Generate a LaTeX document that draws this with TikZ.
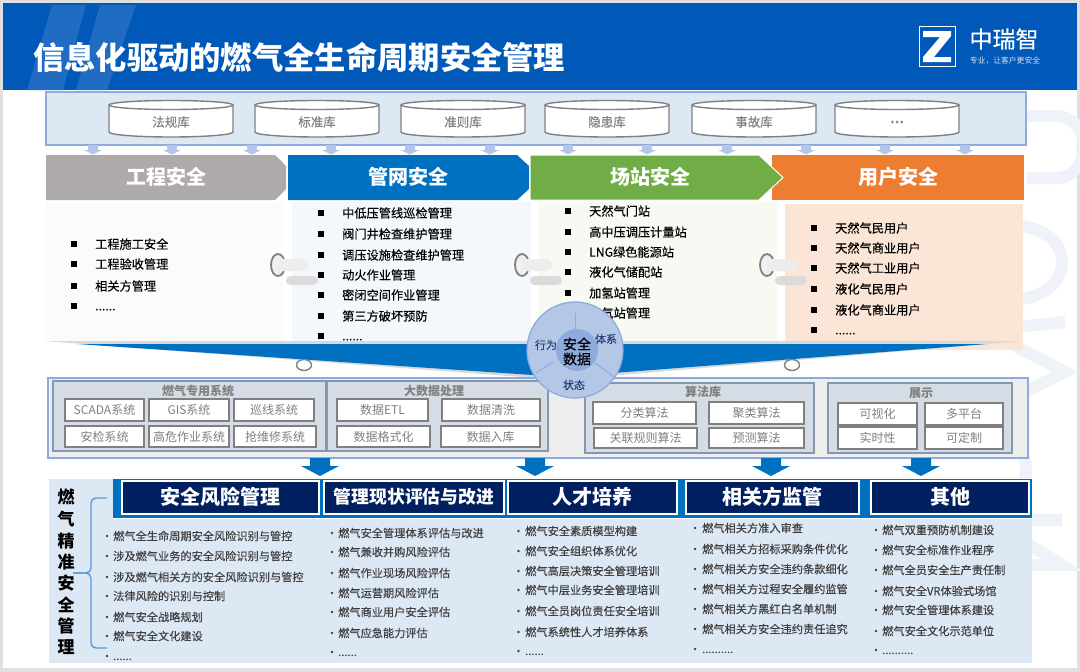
\documentclass[tikz,border=0pt]{standalone}
\usepackage{fontspec}
\setmainfont{Noto Sans CJK SC}
\newfontfamily\medfont[FakeBold=0.25]{Noto Sans CJK SC}
\usepackage{tikz}
\usetikzlibrary{positioning}
\definecolor{hdblue}{HTML}{0058B8}
\definecolor{stripeblue}{HTML}{1F6CC2}
\definecolor{bandblue}{HTML}{DDE8F5}
\definecolor{edgeblue}{HTML}{8FAADC}
\definecolor{softblue}{HTML}{B4C7E7}
\definecolor{midblue}{HTML}{0070C0}
\definecolor{navy}{HTML}{002060}
\definecolor{wmark}{HTML}{F0F2FA}
\definecolor{groupfill}{HTML}{D6DCE5}
\definecolor{groupedge}{HTML}{8497B0}
\definecolor{chevgrey}{HTML}{AEAAAA}
\definecolor{chevgreen}{HTML}{70AD47}
\definecolor{chevorange}{HTML}{ED7D31}
\definecolor{panelgrey}{HTML}{FBFBFB}
\definecolor{panelblue}{HTML}{F4F8FD}
\definecolor{panelgreen}{HTML}{F6FAF3}
\definecolor{panelorange}{HTML}{FBE5D6}
\definecolor{bracecol}{HTML}{5B9BD5}
\tikzset{
    txt/.style={inner sep=0pt, font=\fontsize{#1}{#1}\selectfont},
    medtxt/.style={inner sep=0pt, font=\medfont\fontsize{#1}{#1}\selectfont},
    item/.style={medtxt=12.2, anchor=west, text=black},
    sq/.style={fill=black, inner sep=0pt, minimum size=6pt},
    lowitem/.style={medtxt=11.2, anchor=west, text=black!75},
    dot/.style={circle, fill=black!75, inner sep=0pt, minimum size=2.8pt},
    libtext/.style={medtxt=12.5, text=black!50},
    chevtext/.style={inner sep=0pt, text=white, font=\fontsize{20}{20}\selectfont\bfseries},
    headbox/.style={draw=white, line width=1.3pt, fill=navy},
    groupbox/.style={draw=groupedge, line width=1.4pt, fill=groupfill},
    subbox/.style={draw=black!50, line width=1.5pt, fill=white},
    subtext/.style={txt=12, text=black!50},
    grouptext/.style={inner sep=0pt, text=black!50, font=\fontsize{12}{12}\selectfont\bfseries},
    ring/.style={draw=black!50, line width=1.4pt},
    petal/.style={medtxt=11, text=navy!85},
}
\newcommand{\lowdots}[1]{\vphantom{工}#1}
\begin{document}
\begin{tikzpicture}[x=1pt, y=-1pt]
    \useasboundingbox (0,0) rectangle (1080,672);
    \fill[black!12] (0,0) rectangle (1080,672);
    \fill[white] (3,3) rectangle (1077,668);

    % watermark
    \begin{scope}[wmark, line width=12pt]
        \draw (1027,116) -- (1055,116) to[out=0,in=0,looseness=1.6] (1055,178) -- (1027,178);
        \draw (1010,225) to[out=0,in=90] (1062,262) to[out=-90,in=0] (1010,300) -- (985,300);
        \draw (1065,322) -- (985,330) -- (1065,372) -- (985,412);
        \draw (1005,440) to[out=0,in=0,looseness=1.2] (1005,500);
        \draw (1062,520) -- (990,520) -- (1062,565) -- (990,565);
    \end{scope}

    % title bar
    \fill[hdblue] (3,3) rectangle (1077,90);
    \fill[stripeblue] (52,5) -- (86,5) -- (63,90) -- (27,90) -- cycle;
    \fill[stripeblue] (100,5) -- (136,5) -- (107,90) -- (76,90) -- cycle;
    \node[inner sep=0pt, text=white, anchor=west, font=\fontsize{31.3}{31.3}\selectfont\bfseries] (title) at (33,57) {信息化驱动的燃气全生命周期安全管理};
    \draw[white, line width=1pt, fill=hdblue] (919,26.5) rectangle (955,66);
    \fill[white] (923,31) -- (951,31) -- (951,36) -- (934,57) -- (951,57) -- (951,62) -- (923,62) -- (923,57) -- (940,37) -- (923,37) -- cycle;
    \node[medtxt=23, text=white] (brand) at (1004,39) {中瑞智};
    \node[txt=7.8, text=white!85!hdblue] (slogan) at (1005,61) {专业，让客户更安全};

    % libraries
    \draw[edgeblue, line width=1.2pt, fill=bandblue] (46,92) rectangle (1026,145);
    \foreach \cx/\lbl [count=\i] in {171/法规库, 317/标准库, 463/准则库, 607/隐患库, 754/事故库, 897/\textbf{…}}{
        \draw[black!50, line width=1.4pt, fill=white] (\cx-62,105) -- (\cx-62,132)
            arc[start angle=180, end angle=360, x radius=62pt, y radius=5pt] -- (\cx+62,105);
        \draw[black!50, line width=1.4pt, fill=white] (\cx,105) ellipse[x radius=62pt, y radius=4.5pt];
        \node[libtext] (lib\i) at (\cx,122) {\lbl};
    }
    \foreach \ax in {93,172,252,331,410,490,568,647,727,806,885,965}
        \fill[softblue] (\ax-5,145) -- (\ax+5,145) -- (\ax+5,150) -- (\ax+9,150) -- (\ax,154.5) -- (\ax-9,150) -- (\ax-5,150) -- cycle;

    % chevrons
    \fill[chevgrey] (46,155) -- (275,155) -- (286,166) -- (286,189) -- (275,200) -- (46,200) -- cycle;
    \fill[midblue] (288,155) -- (517,155) -- (529,166) -- (529,189) -- (517,200) -- (288,200) -- cycle;
    \fill[chevorange] (772,155) rectangle (1024,200);
    \draw[white, line width=1pt, fill=chevgreen] (530,155) -- (759,155) -- (783,177.5) -- (759,200) -- (530,200) -- cycle;
    \node[chevtext] (eng) at (166,177) {工程安全};
    \node[chevtext] (net) at (408,177) {管网安全};
    \node[chevtext] (sta) at (650,177) {场站安全};
    \node[chevtext] (usr) at (898,177) {用户安全};

    % panels
    \fill[panelgrey] (45,203) rectangle (283,341);
    \fill[panelblue] (292,202) rectangle (531,343);
    \fill[panelgreen] (538,202) rectangle (777,343);
    \fill[panelorange] (785,204) rectangle (1023,350);

    \foreach \yy/\lbl [count=\i] in {244/工程施工安全, 264/工程验收管理, 286/相关方管理, 306/\lowdots{......}}{
        \node[item] (engi\i) at (95,\yy) {\lbl};
        \node[sq] (engb\i) at (74,\yy) {};
    }
    \foreach \yy/\lbl [count=\i] in {213/中低压管线巡检管理, 234/阀门井检查维护管理, 255/调压设施检查维护管理, 275/动火作业管理, 295/密闭空间作业管理, 316/第三方破坏预防, 336/\lowdots{......}}{
        \node[item] (neti\i) at (342,\yy) {\lbl};
        \node[sq] (netb\i) at (321,\yy) {};
    }
    \foreach \yy/\lbl [count=\i] in {211/天然气门站, 232/高中压调压计量站, 252/LNG绿色能源站, 272/液化气储配站, 293/加氢站管理, 313/加气站管理}{
        \node[item] (stai\i) at (589,\yy) {\lbl};
        \node[sq] (stab\i) at (568,\yy) {};
    }
    \foreach \yy/\lbl [count=\i] in {228/天然气民用户, 248/天然气商业用户, 268/天然气工业用户, 289/液化气民用户, 310/液化气商业用户, 330/\lowdots{......}}{
        \node[item] (usri\i) at (835,\yy) {\lbl};
        \node[sq] (usrb\i) at (814,\yy) {};
    }

    % clips
    \foreach \cx in {278,522,767}{
        \draw[black!50, line width=1.8pt, fill=black!6] (\cx,265) ellipse[x radius=7pt, y radius=11pt];
        \fill[black!7, rounded corners=5pt] (\cx,259) rectangle (\cx+30,271);
        \fill[black!14, rounded corners=4.5pt] (\cx+8,276) rectangle (\cx+40,285);
    }

    % funnel
    \fill[black!15] (43,341) -- (1023,341) -- (562,380) -- cycle;
    \fill[midblue] (77,344) -- (987,344) -- (562,377) -- cycle;
    \draw[ring, fill=white] (304,365) ellipse[x radius=7.5pt, y radius=5.5pt];
    \draw[ring, fill=white] (792,365) ellipse[x radius=7.5pt, y radius=5.5pt];

    % systems
    \draw[edgeblue, line width=1.2pt, fill=black!7] (48,378) rectangle (1028,458);
    \draw[groupbox] (53,381) rectangle (326,451);
    \draw[groupbox] (327,381) rectangle (548,451);
    \draw[groupbox] (585,383) rectangle (814,453);
    \draw[groupbox] (828,383) rectangle (1012,453);
    \node[grouptext] (gasys) at (198,391) {燃气专用系统};
    \node[grouptext] (bigdata) at (434,391) {大数据处理};
    \node[grouptext] (algo) at (703,392) {算法库};
    \node[grouptext] (show) at (921,393) {展示};
    \foreach \xa/\ya/\xb/\yb/\lbl [count=\i] in {
        65/399/144/421/SCADA系统, 149/399/229/421/GIS系统, 234/399/314/421/巡线系统,
        65/426/144/447/安检系统, 149/426/229/447/高危作业系统, 234/426/316/447/抢维修系统,
        337/399/428/421/数据ETL, 442/399/540/421/数据清洗,
        337/426/430/447/数据格式化, 441/426/540/447/数据入库,
        593/402/696/424/分类算法, 709/402/804/424/聚类算法,
        594/428/697/448/关联规则算法, 709/428/804/448/预测算法,
        838/403/917/425/可视化, 925/403/1003/425/多平台,
        838/427/917/449/实时性, 925/427/1003/449/可定制}{
        \draw[subbox] (\xa,\ya) rectangle (\xb,\yb);
        \node[subtext] (sub\i) at ({(\xa+\xb)/2},{(\ya+\yb)/2}) {\lbl};
    }
    \foreach \ax in {320,535,771,921}
        \fill[midblue] (\ax-10,458) -- (\ax+10,458) -- (\ax+10,466) -- (\ax+19,466) -- (\ax,476) -- (\ax-19,466) -- (\ax-10,466) -- cycle;

    % safety data wheel
    \draw[edgeblue, line width=1.3pt, fill=softblue] (575,350) circle (48pt);
    \draw[edgeblue, line width=1pt] (575,313) -- (575,332);
    \draw[edgeblue, line width=1pt] (536,373) -- (553,362);
    \draw[edgeblue, line width=1pt] (595,363) -- (613,376);
    \fill[edgeblue] (577,350) circle (21pt);
    \node[medtxt=14, text=black] (safe) at (577,344) {安全};
    \node[medtxt=14, text=black] (data) at (577,359) {数据};
    \node[petal] (act) at (546,345) {行为};
    \node[petal] (sys) at (606,339) {体系};
    \node[petal] (state) at (574,385) {状态};

    % measures
    \fill[bandblue] (49,479) rectangle (1032,663);
    \fill[white] (113,479) rectangle (1032,519);
    \fill[midblue] (113,479) rectangle (1032,518);
    \foreach \xa/\xb/\lbl [count=\i] in {122/319/安全风险管理, 508/677/人才培养, 686/859/相关方监管, 871/1029/其他}{
        \draw[headbox] (\xa,481) rectangle (\xb,514);
        \node[chevtext] (head\i) at ({(\xa+\xb)/2},497) {\lbl};
    }
    \draw[headbox] (324,481) rectangle (504,514);
    \node[inner sep=0pt, text=white, font=\fontsize{17.8}{17.8}\selectfont\bfseries] (headtwo) at (414,497) {管理现状评估与改进};

    \foreach \yy/\lbl [count=\i] in {497/燃, 519/气, 541/精, 562/准, 583/安, 605/全, 626/管, 647/理}
        \node[inner sep=0pt, text=black, font=\fontsize{17}{17}\selectfont\bfseries] (side\i) at (66,\yy) {\lbl};
    \draw[bracecol, line width=1.4pt, rounded corners=5pt]
        (107,498) -- (91,498) -- (91,573) -- (73,573);
    \draw[bracecol, line width=1.4pt, rounded corners=5pt]
        (107,648) -- (91,648) -- (91,573) -- (73,573);

    \foreach \yy/\lbl [count=\i] in {536/燃气全生命周期安全风险识别与管控, 556/涉及燃气业务的安全风险识别与管控, 577/涉及燃气相关方的安全风险识别与管控, 596/法律风险的识别与控制, 617/燃气安全战略规划, 636/燃气安全文化建设, 656/\lowdots{......}}{
        \node[lowitem] (riski\i) at (113,\yy) {\lbl};
        \node[dot] (riskb\i) at (107,\yy) {};
    }
    \foreach \yy/\lbl [count=\i] in {533/燃气安全管理体系评估与改进, 552/燃气兼收并购风险评估, 573/燃气作业现场风险评估, 593/燃气运营期风险评估, 612/燃气商业用户安全评估, 633/燃气应急能力评估, 652/\lowdots{......}}{
        \node[lowitem] (evali\i) at (338,\yy) {\lbl};
        \node[dot] (evalb\i) at (332,\yy) {};
    }
    \foreach \yy/\lbl [count=\i] in {531/燃气安全素质模型构建, 551/燃气安全组织体系优化, 571/燃气高层决策安全管理培训, 590/燃气中层业务安全管理培训, 611/燃气全员岗位责任安全培训, 632/燃气系统性人才培养体系, 651/\lowdots{......}}{
        \node[lowitem] (traini\i) at (525,\yy) {\lbl};
        \node[dot] (trainb\i) at (518.5,\yy) {};
    }
    \foreach \yy/\lbl [count=\i] in {528/燃气相关方准入审查, 549/燃气相关方招标采购条件优化, 569/燃气相关方安全违约条款细化, 589/燃气相关方过程安全履约监管, 609/燃气相关方黑红白名单机制, 629/燃气相关方安全违约责任追究, 649/\lowdots{..........}}{
        \node[lowitem] (supi\i) at (702,\yy) {\lbl};
        \node[dot] (supb\i) at (695,\yy) {};
    }
    \foreach \yy/\lbl [count=\i] in {530/燃气双重预防机制建设, 550/燃气安全标准作业程序, 570/燃气全员安全生产责任制, 591/燃气安全VR体验式场馆, 610/燃气安全管理体系建设, 631/燃气安全文化示范单位, 650/\lowdots{..........}}{
        \node[lowitem] (othi\i) at (882,\yy) {\lbl};
        \node[dot] (othb\i) at (876,\yy) {};
    }
\end{tikzpicture}
\end{document}
